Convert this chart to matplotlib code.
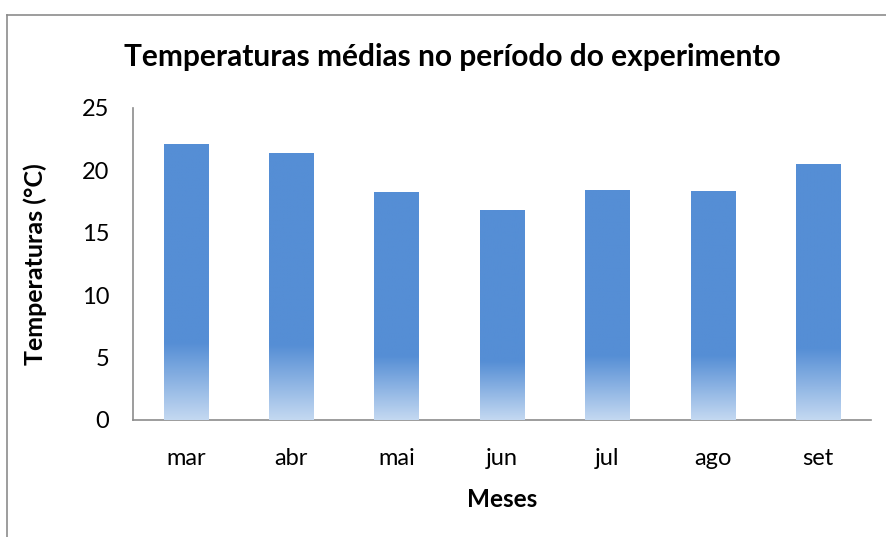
import numpy as np
import matplotlib
matplotlib.use('Agg')
import matplotlib.pyplot as plt
from matplotlib.colors import LinearSegmentedColormap

# Dados
meses = ['mar', 'abr', 'mai', 'jun', 'jul', 'ago', 'set']
temperaturas = [22.1, 21.4, 18.3, 16.8, 18.4, 18.35, 20.5]

plt.rcParams['font.family'] = ['Lato', 'DejaVu Sans']

fig = plt.figure(figsize=(8.87, 5.37), dpi=100)
ax = fig.add_axes([133/887, 1-420/537, (871-133)/887, (420-108)/537])

cor = '#558ED5'
cmap = LinearSegmentedColormap.from_list('grad', ['#C3D8F1', cor])
x = np.arange(len(meses))
largura = 0.42
barras = ax.bar(x, temperaturas, width=largura, color=cor, zorder=2)

# degradê na base de cada barra (28% inferiores)
grad = np.clip(np.linspace(0, 1.0/0.28, 200), 0, 1).reshape(-1, 1)
for b, xi, h in zip(barras, x, temperaturas):
    im = ax.imshow(grad, cmap=cmap, origin='lower', aspect='auto', zorder=3,
                   interpolation='bilinear',
                   extent=(xi - largura, xi + largura, 0, h))
    im.set_clip_path(b)

ax.set_xlim(-0.5, len(meses) - 0.5)
ax.set_ylim(0, 25)
ax.set_yticks([0, 5, 10, 15, 20, 25])
ax.set_xticks(x)
ax.set_xticklabels(meses)
ax.tick_params(length=0, labelsize=17)
ax.tick_params(axis='x', pad=20)
ax.tick_params(axis='y', pad=17)
for s in ['top', 'right']:
    ax.spines[s].set_visible(False)
for s in ['left', 'bottom']:
    ax.spines[s].set_color('#8C8C8C')
    ax.spines[s].set_linewidth(1.2)

ax.set_xlabel('Meses', fontsize=17.5, fontweight='bold', labelpad=14)
ax.set_ylabel('Temperaturas (°C)', fontsize=18, fontweight='bold', labelpad=25)
fig.text(452/887, 1-57/537, 'Temperaturas médias no período do experimento',
         ha='center', va='center', fontsize=21.5, fontweight='bold')

# borda do gráfico
fig.add_artist(plt.Line2D([7/887, 7/887], [0, 1-15/537], color='#8C8C8C', lw=1.2))
fig.add_artist(plt.Line2D([7/887, 1], [1-15/537, 1-15/537], color='#8C8C8C', lw=1.2))

fig.savefig('out.png', dpi=100)
